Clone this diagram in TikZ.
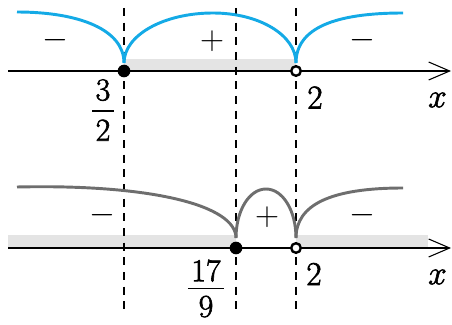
\documentclass[tikz,border=0pt]{standalone}
\usepackage{fix-cm}
\usetikzlibrary{arrows.meta}
\definecolor{curveblue}{RGB}{20,170,230}
\definecolor{curvegray}{RGB}{110,110,110}
\definecolor{shadegray}{RGB}{228,228,228}
\newcommand\heavytext[1]{\special{pdf:literal direct 2 Tr 0.45 w}#1\special{pdf:literal direct 0 Tr 0.4 w}}
% stacked fraction: gap above bar, gap below bar, numerator, denominator
\newcommand\stackfrac[4]{\vbox{\halign{\hfil##\hfil\cr
  \kern2.5pt#3\kern2.5pt\cr
  \noalign{\kern#1\hrule height 1pt\kern#2}
  #4\cr}}}
\begin{document}
\begin{tikzpicture}[x=0.75pt,y=-0.75pt,
  axis/.style={line width=1.1pt,-{Straight Barb[length=15.75pt,width=13.5pt,line width=0.8pt]}},
  guide/.style={line width=0.9pt,dash pattern=on 6pt off 5pt},
  bluecurve/.style={curveblue,line width=2.2pt},
  graycurve/.style={curvegray,line width=2.2pt},
  fulldot/.style={circle,fill=black,inner sep=0pt,minimum size=9.5pt},
  opendot/.style={circle,draw=black,fill=white,line width=1.8pt,inner sep=0pt,minimum size=7.2pt},
  lbl/.style={font=\fontsize{25}{28}\selectfont,inner sep=0pt},
  fraclbl/.style={font=\fontsize{24}{27}\selectfont,inner sep=0pt},
  shadebox/.style={fill=shadegray,draw=none}]
\useasboundingbox (0,0) rectangle (452,324);
% shading
\fill[shadebox] (124,59) rectangle (296,71);
\fill[shadebox] (8,235) rectangle (236,248);
\fill[shadebox] (296,235) rectangle (428,248);
% dashed guides
\coordinate (ga1) at (124,8);  \coordinate (ga2) at (124,310);
\coordinate (gb1) at (236,8);  \coordinate (gb2) at (236,310);
\coordinate (gc1) at (296,8);  \coordinate (gc2) at (296,310);
\draw[guide] (ga1) -- (ga2);
\draw[guide] (gb1) -- (gb2);
\draw[guide] (gc1) -- (gc2);
% axes
\coordinate (axTs) at (8,71);  \coordinate (axTe) at (451,71);
\coordinate (axBs) at (8,248); \coordinate (axBe) at (451,248);
\draw[axis] (axTs) -- (axTe);
\draw[axis] (axBs) -- (axBe);
% top curve
\coordinate (tL) at (17,12);
\coordinate (tc1) at (124,63);
\coordinate (tpk) at (213,13);
\coordinate (tc2) at (296,63);
\coordinate (tR) at (403,13);
\draw[bluecurve] (tL) .. controls (80,12) and (124,30) .. (tc1);
\draw[bluecurve] (tc1) .. controls (124,35) and (164,13) .. (tpk)
                       .. controls (259,13) and (296,35) .. (tc2);
\draw[bluecurve] (tc2) .. controls (296,28) and (335,13) .. (tR);
% bottom curve
\coordinate (bL) at (17,187);
\coordinate (bc1) at (236,238);
\coordinate (bpk) at (266,189);
\coordinate (bc2) at (296,238);
\coordinate (bR) at (403,188);
\draw[graycurve] (bL) .. controls (150,184) and (236,205) .. (bc1);
\draw[graycurve] (bc1) .. controls (236,211) and (249,189) .. (bpk)
                       .. controls (283,189) and (296,211) .. (bc2);
\draw[graycurve] (bc2) .. controls (296,205) and (330,188) .. (bR);
% dots
\node[fulldot] (d1) at (124,71) {};
\node[opendot] (d2) at (296,71) {};
\node[fulldot] (d3) at (236,248) {};
\node[opendot] (d4) at (296,248) {};
% signs
\node[lbl] (s1) at (55,40) {$-$};
\node[lbl] (s2) at (212,41) {$+$};
\node[lbl] (s3) at (362,40) {$-$};
\node[lbl] (s4) at (102,215) {$-$};
\node[lbl] (s5) at (267,217) {$+$};
\node[lbl] (s6) at (362,215) {$-$};
% labels
\node[fraclbl] (f1) at (103,110) {\heavytext{\stackfrac{7pt}{6pt}{3}{2}}};
\node[lbl] (two1) at (315,97.5) {\heavytext{2}};
\node[lbl] (x1) at (437.5,100) {\heavytext{$x$}};
\node[fraclbl] (f2) at (206,288.5) {\heavytext{\stackfrac{4.5pt}{5pt}{17}{9}}};
\node[lbl] (two2) at (314,274) {\heavytext{2}};
\node[lbl] (x2) at (437.5,277) {\heavytext{$x$}};
\end{tikzpicture}
\end{document}
